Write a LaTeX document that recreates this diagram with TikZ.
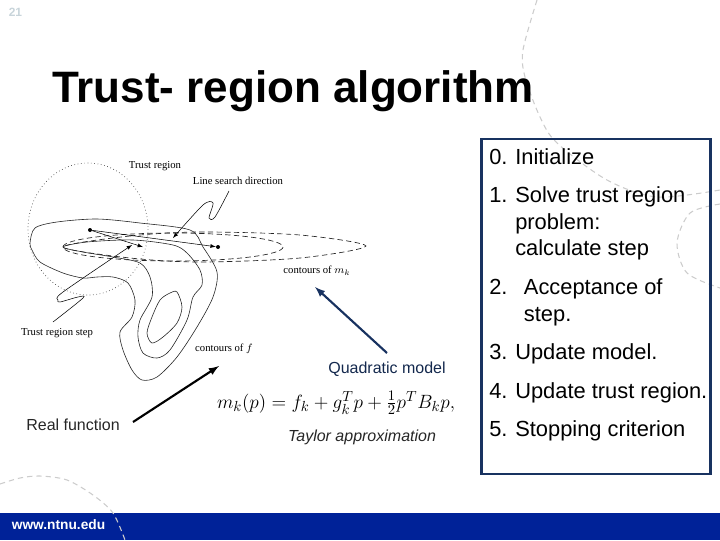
\documentclass[tikz,border=0pt]{standalone}
\usepackage{amsmath,amssymb}
\usepackage{xcolor}
\usepackage{fontspec}
\setmainfont{Liberation Sans}
\newfontfamily\figfont{Liberation Serif}
\usepackage{tikz}
\usetikzlibrary{arrows,positioning}
\definecolor{barblue}{RGB}{0,34,152}
\definecolor{boxnavy}{RGB}{24,50,96}
\definecolor{pagegrey}{RGB}{200,212,218}
\newcommand{\stepno}[2]{\makebox[#1][l]{#2}}

\begin{document}
\begin{tikzpicture}[
        x=0.75pt, y=-0.75pt,
        node distance=8.6pt,
        stepitem/.style={inner sep=0pt, align=left, font=\fontsize{16.4}{19.9}\selectfont},
        caption/.style={inner sep=0pt, text=black!85, font=\fontsize{12}{14}\selectfont},
        figlabel/.style={inner sep=0pt, font=\figfont\fontsize{8}{10}\selectfont},
        contourf/.style={line width=0.45pt, black!85},
        contourm/.style={line width=0.5pt, dashed, dash pattern=on 4pt off 2.5pt, black!85},
        pointer/.style={line width=0.4pt, -latex},
        dot/.style={circle, fill=black, inner sep=0pt, minimum size=3pt},
        deco/.style={line width=0.8pt, black!20, dash pattern=on 4pt off 3pt},
        bigarrow/.style={-latex, line width=1.6pt}
    ]
        \useasboundingbox (0,0) rectangle (720,540);

        % Footer bar
        \node[fill=barblue, inner sep=0pt, minimum width=540pt, minimum height=20.25pt, anchor=south west] (bar) at (0,540) {};
        \node[inner sep=0pt, text=white, font=\fontsize{10.3}{12}\selectfont\bfseries] (web) at (58.5,525) {www.ntnu.edu};

        % Background arcs
        \draw[deco] plot[smooth] coordinates {(537,0) (523,50) (525,77) (540,117) (557,143) (607,180) (657,197) (720,190)};
        \draw[deco] plot[smooth] coordinates {(720,204) (690,213) (677,243) (687,273) (720,288)};
        \draw[deco] plot[smooth] coordinates {(0,484) (20,478) (40,476) (67,480) (93,495) (113,513) (125,540)};

        % Page number and title
        \node[inner sep=0pt, text=pagegrey, font=\fontsize{9}{10}\selectfont\bfseries] (pageno) at (15.5,12) {21};
        \node[inner sep=0pt, anchor=west, font=\fontsize{33}{38}\selectfont\bfseries] (title) at (52,91) {Trust- region algorithm};

        % Contours of f
        \draw[contourf] plot[smooth cycle] coordinates {(35,228) (57,222) (97,219) (140,223) (190,230) (203,247) (217,272) (213,297) (197,327) (177,357) (157,377) (142,380) (132,370) (123,350) (120,332) (132,317) (135,300) (128,283) (113,277) (97,277) (83,278) (63,273) (40,262) (32,250) (30,243)};
        \draw[contourf] plot[smooth cycle] coordinates {(63,247) (87,242) (133,240) (173,245) (187,253) (200,270) (202,285) (193,297) (187,320) (170,350) (157,358) (143,353) (138,337) (140,320) (152,297) (150,277) (140,263) (113,257) (83,252)};
        \draw[contourf] plot[smooth cycle] coordinates {(177,292) (182,307) (177,323) (163,337) (152,343) (147,333) (152,317) (160,300) (170,293)};

        % Contours of m_k
        \draw[contourm] plot[smooth cycle] coordinates {(63,247) (130,236) (200,232) (300,235) (366,246) (300,258) (200,262) (130,258)};
        \draw[contourm] (173,247) ellipse [x radius=110, y radius=14];

        % Trust region
        \draw[line width=0.5pt, dotted, black!75] (88,229) ellipse [x radius=60, y radius=66];

        % Steps
        \node[dot] (xk) at (90,230) {};
        \node[dot] (xls) at (218,247) {};
        \coordinate (xtr) at (143,247);
        \draw[pointer] (xk) -- (xtr);
        \draw[pointer] (xk) -- (xls);

        % Figure labels
        \node[figlabel] (trlabel) at (155,166) {Trust region};
        \node[figlabel] (lslabel) at (238,181) {Line search direction};
        \node[figlabel] (mklabel) at (317,271) {contours of $m_k$};
        \node[figlabel] (tslabel) at (57,333) {Trust region step};
        \node[figlabel] (fclabel) at (224,349) {contours of $f$};

        % Pointers of the labels
        \draw[pointer] plot[smooth] coordinates {(229,191) (215,217) (209,218) (213,203) (203,205) (173,238)};
        \draw[pointer] plot[smooth] coordinates {(53,322) (83,298) (78,297) (60,302) (58,300) (63,292) (132,245)};

        % Formula and captions
        \node[inner sep=0pt, font=\fontsize{15.4}{18}\selectfont] (model) at (336,403) {$m_k(p) = f_k + g_k^T p + \frac{1}{2} p^T B_k p,$};
        \node[caption, text=boxnavy!80!black] (quad) at (387,369) {Quadratic model};
        \node[caption, font=\fontsize{12}{14}\selectfont\itshape] (taylor) at (362,437) {Taylor approximation};
        \node[caption] (real) at (73,425) {Real function};

        % Arrows
        \coordinate (fend) at (219,366);
        \coordinate (fstart) at (133,422);
        \coordinate (mend) at (315,287);
        \coordinate (mstart) at (387,353);
        \draw[bigarrow] (fstart) -- (fend);
        \draw[bigarrow, boxnavy] (mstart) -- (mend);

        % Algorithm box
        \node[draw=boxnavy, line width=2.2pt, inner sep=0pt, minimum width=171.75pt, minimum height=251.25pt, anchor=north west] (algo) at (480,137.5) {};
        \node[stepitem, anchor=north west] (s0) at (489,145.5) {\strut\stepno{19.5pt}{0.}Initialize};
        \node[stepitem, below=of s0.south west, anchor=north west] (s1) {\strut\stepno{19.5pt}{1.}Solve trust region\\\strut\stepno{19.5pt}{}problem:\\\strut\stepno{19.5pt}{}calculate step};
        \node[stepitem, below=of s1.south west, anchor=north west] (s2) {\strut\stepno{26pt}{2.}Acceptance of\\\strut\stepno{26pt}{}step.};
        \node[stepitem, below=of s2.south west, anchor=north west] (s3) {\strut\stepno{19.5pt}{3.}Update model.};
        \node[stepitem, below=of s3.south west, anchor=north west] (s4) {\strut\stepno{19.5pt}{4.}Update trust region.};
        \node[stepitem, below=of s4.south west, anchor=north west] (s5) {\strut\stepno{19.5pt}{5.}Stopping criterion};
    \end{tikzpicture}
\end{document}
